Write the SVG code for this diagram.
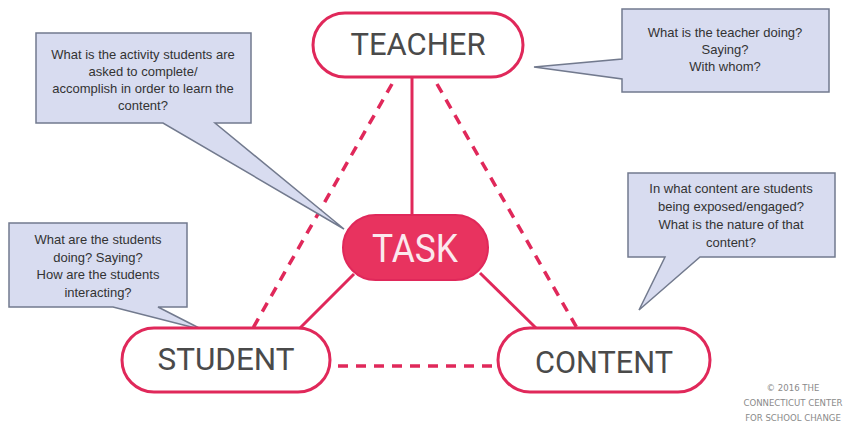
<svg xmlns="http://www.w3.org/2000/svg" width="863" height="430" viewBox="0 0 863 430">
<style>
.bg{fill:#ffffff}
.pill{fill:#ffffff;stroke:#e0285a;stroke-width:3}
.pillTask{fill:#e8335f;stroke:#e0285a;stroke-width:2}
.lbl{font-family:Roboto,"Liberation Sans",sans-serif;font-size:31px;fill:#4a4a4a;text-anchor:middle}
.lblTask{font-family:Roboto,"Liberation Sans",sans-serif;font-size:39px;fill:#fbe9ee;text-anchor:middle}
.solid{stroke:#e0285a;stroke-width:3;fill:none}
.dash{stroke:#e0285a;stroke-width:3.5;fill:none;stroke-dasharray:10 8}
.callout{fill:#d8dcf0;stroke:#727a8e;stroke-width:1.5;stroke-linejoin:miter}
.ct{font-family:"Liberation Sans",Arial,sans-serif;font-size:13px;fill:#333;text-anchor:middle}
.copy{font-family:"DejaVu Sans","Liberation Sans",sans-serif;font-stretch:condensed;font-size:9.5px;fill:#8a8a8a;text-anchor:middle}
</style>
<rect class="bg" x="0" y="0" width="863" height="430"/>
<g id="connectors">
<line class="solid" x1="412" y1="77" x2="412" y2="216"/>
<line class="solid" x1="354" y1="274" x2="299" y2="329"/>
<line class="solid" x1="480" y1="273" x2="537" y2="329"/>
<line class="dash" x1="392" y1="84" x2="253" y2="328"/>
<line class="dash" x1="437" y1="84" x2="577" y2="328"/>
<line class="dash" x1="338" y1="366" x2="492" y2="366"/>
</g>
<g id="callout-activity">
<path class="callout" d="M36,33 H251 V123 H215 L344,229 L163,123 H36 Z"/>
<text class="ct" x="143" y="59">What is the activity students are</text>
<text class="ct" x="143" y="76">asked to complete/</text>
<text class="ct" x="143" y="93">accomplish in order to learn the</text>
<text class="ct" x="143" y="110">content?</text>
</g>
<g id="callout-teacher">
<path class="callout" d="M622,9 H829 V92 H622 V79 L534,67 L622,59 Z"/>
<text class="ct" x="725" y="37">What is the teacher doing?</text>
<text class="ct" x="725" y="54">Saying?</text>
<text class="ct" x="725" y="71">With whom?</text>
</g>
<g id="callout-student">
<path class="callout" d="M9,223 H187 V307 H158 L203,330 L113,307 H9 Z"/>
<text class="ct" x="98" y="244">What are the students</text>
<text class="ct" x="98" y="262">doing? Saying?</text>
<text class="ct" x="98" y="279">How are the students</text>
<text class="ct" x="98" y="297">interacting?</text>
</g>
<g id="callout-content">
<path class="callout" d="M628,173 H835 V257 H700 L639,310 L665,257 H628 Z"/>
<text class="ct" x="731" y="193">In what content are students</text>
<text class="ct" x="731" y="211">being exposed/engaged?</text>
<text class="ct" x="731" y="229">What is the nature of that</text>
<text class="ct" x="731" y="247">content?</text>
</g>
<g id="node-teacher">
<rect class="pill" x="313" y="13" width="210" height="64" rx="32"/>
<text class="lbl" x="418" y="55" textLength="135" lengthAdjust="spacingAndGlyphs">TEACHER</text>
</g>
<g id="node-task">
<rect class="pillTask" x="343" y="215" width="145" height="65" rx="32.5"/>
<text class="lblTask" x="415" y="262" textLength="86" lengthAdjust="spacingAndGlyphs">TASK</text>
</g>
<g id="node-student">
<rect class="pill" x="122" y="328" width="208" height="64" rx="32"/>
<text class="lbl" x="226" y="370" textLength="137" lengthAdjust="spacingAndGlyphs">STUDENT</text>
</g>
<g id="node-content">
<rect class="pill" x="498" y="328" width="212" height="64" rx="32"/>
<text class="lbl" x="604" y="373" textLength="138" lengthAdjust="spacingAndGlyphs">CONTENT</text>
</g>
<g id="copyright">
<text class="copy" x="793" y="391">© 2016 THE</text>
<text class="copy" x="793" y="406">CONNECTICUT CENTER</text>
<text class="copy" x="793" y="421">FOR SCHOOL CHANGE</text>
</g>
</svg>
